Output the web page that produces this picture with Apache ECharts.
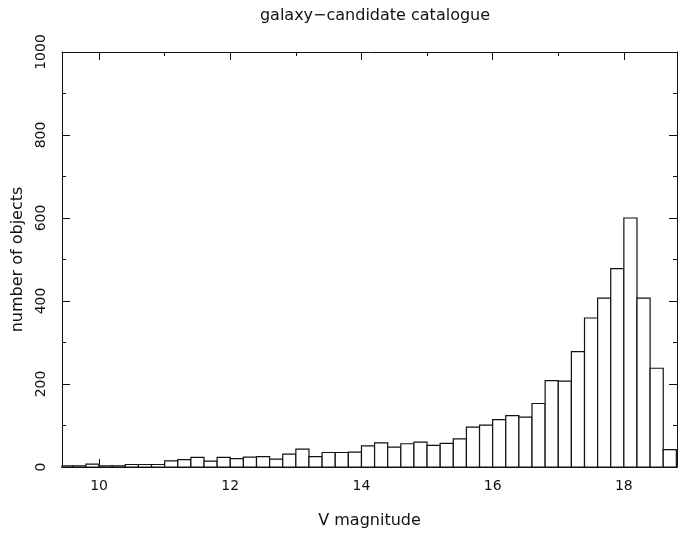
<!DOCTYPE html>
<html>
<head>
<meta charset="utf-8">
<script src="https://cdn.jsdelivr.net/npm/echarts@6/dist/echarts.min.js"></script>
<style>
html,body{margin:0;padding:0;background:#fff;}
#chart{width:685px;height:534px;}
</style>
</head>
<body>
<div id="chart"></div>
<script>
// Histogram bins (lower edge of each 0.2 mag bin) and counts
const binStart = [9.4, 9.6, 9.8, 10.0, 10.2, 10.4, 10.6, 10.8, 11.0, 11.2,
  11.4, 11.6, 11.8, 12.0, 12.2, 12.4, 12.6, 12.8, 13.0, 13.2,
  13.4, 13.6, 13.8, 14.0, 14.2, 14.4, 14.6, 14.8, 15.0, 15.2,
  15.4, 15.6, 15.8, 16.0, 16.2, 16.4, 16.6, 16.8, 17.0, 17.2,
  17.4, 17.6, 17.8, 18.0, 18.2, 18.4, 18.6];
const counts = [3, 3, 7, 3, 3, 6, 6, 6, 15, 18,
  23, 14, 23, 20, 24, 25, 19, 31, 43, 25,
  35, 35, 36, 51, 58, 48, 56, 60, 52, 57,
  68, 96, 101, 114, 124, 120, 153, 208, 207, 278,
  359, 407, 478, 600, 407, 238, 42];
const binWidth = 0.2;
const xMajorTicks = [10, 12, 14, 16, 18];
const xMinorTicks = [11, 13, 15, 17];
const titleText = 'galaxy\u2212candidate catalogue';
const xName = 'V magnitude';
const yName = 'number of objects';

const X_MIN = 9.435, X_MAX = 18.81;
const FONT = 'DejaVu Sans';
const ink = '#111';

const chart = echarts.init(document.getElementById('chart'), null, {renderer: 'canvas'});

function xAxisDef(pos, ticks, len, showLine, showLabels, withName) {
  const a = {
    type: 'value', position: pos, min: X_MIN, max: X_MAX,
    axisLine: {show: showLine, onZero: false, lineStyle: {color: ink, width: 1}},
    axisTick: {show: true, inside: true, length: len, customValues: ticks, lineStyle: {color: ink, width: 1}},
    axisLabel: {show: showLabels, customValues: ticks, color: ink, fontFamily: FONT, fontSize: 14, margin: 12},
    splitLine: {show: false}
  };
  if (withName) {
    a.name = xName; a.nameLocation = 'middle'; a.nameGap = 46;
    a.nameTextStyle = {color: ink, fontFamily: FONT, fontSize: 16};
  }
  return a;
}
function yAxisDef(pos, showLabels, withName) {
  const a = {
    type: 'value', position: pos, min: 0, max: 1000, interval: 200,
    axisLine: {show: true, onZero: false, lineStyle: {color: ink, width: 1}},
    axisTick: {show: true, inside: true, length: 8, lineStyle: {color: ink, width: 1}},
    minorTick: {show: true, splitNumber: 2, length: 4, lineStyle: {color: ink, width: 1}},
    axisLabel: {show: showLabels, rotate: 90, color: ink, fontFamily: FONT, fontSize: 14, margin: 14,
      formatter: function (v) { return String(v); }},
    splitLine: {show: false}, minorSplitLine: {show: false}
  };
  if (withName) {
    a.name = yName; a.nameLocation = 'middle'; a.nameGap = 36; a.nameRotate = 90;
    a.nameTextStyle = {color: ink, fontFamily: FONT, fontSize: 16};
  }
  return a;
}

const option = {
  backgroundColor: '#fff',
  animation: false,
  title: {
    text: titleText, left: 370, top: 3, textAlign: 'center',
    textStyle: {color: ink, fontFamily: FONT, fontSize: 16, fontWeight: 'normal'}
  },
  grid: {left: 62, right: 8, top: 52, height: 421, containLabel: false},
  xAxis: [
    xAxisDef('bottom', xMajorTicks, 8, true, true, true),
    xAxisDef('bottom', xMinorTicks, 4, false, false, false),
    xAxisDef('top', xMajorTicks, 8, true, false, false),
    xAxisDef('top', xMinorTicks, 4, false, false, false)
  ],
  yAxis: [
    yAxisDef('left', true, true),
    yAxisDef('right', false, false)
  ],
  series: [{
    type: 'custom',
    xAxisIndex: 0, yAxisIndex: 0,
    data: binStart.map((b, i) => [b, counts[i]]),
    encode: {x: 0, y: 1},
    renderItem: function (params, api) {
      const x0 = api.value(0), v = api.value(1);
      const p0 = api.coord([x0, 0]);
      const p1 = api.coord([x0 + binWidth, v]);
      const cs = params.coordSys;
      const rect = echarts.graphic.clipRectByRect(
        {x: p0[0], y: p1[1], width: p1[0] - p0[0], height: p0[1] - p1[1]},
        {x: cs.x, y: cs.y, width: cs.width, height: cs.height}
      );
      if (!rect) return null;
      return {type: 'rect', shape: rect, style: {fill: '#fff', stroke: ink, lineWidth: 1.2}};
    }
  }]
};
chart.setOption(option);
</script>
</body>
</html>
